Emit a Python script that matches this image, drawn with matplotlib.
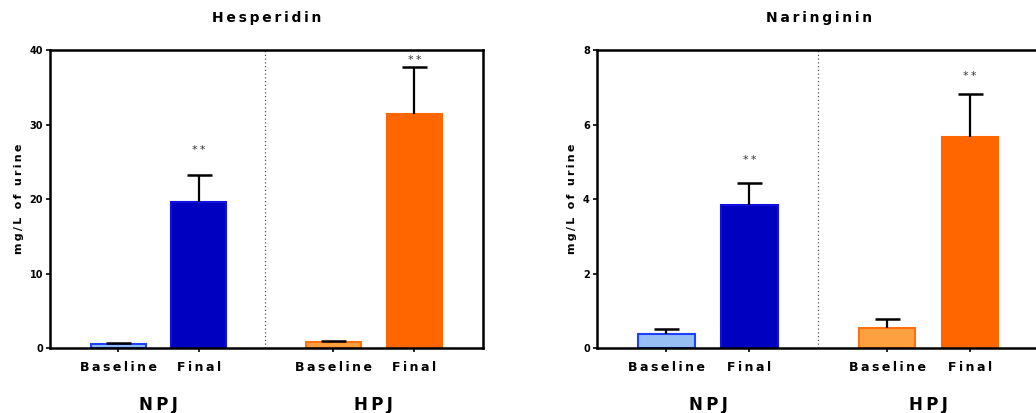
import matplotlib.pyplot as plt

# group / condition layout
groups = ["NPJ", "HPJ"]
conditions = ["Baseline", "Final"]

# Hesperidin (mg/L), mean and upper SEM, significance marks
hesp_mean = [0.55, 19.6, 0.8, 31.4]
hesp_err = [0.15, 3.6, 0.15, 6.4]
hesp_sig = ["", "**", "", "**"]
hesp_sig_y = [0, 26.6, 0, 38.7]

# Naringinin (mg/L)
nar_mean = [0.38, 3.84, 0.54, 5.67]
nar_err = [0.14, 0.59, 0.25, 1.16]
nar_sig = ["", "**", "", "**"]
nar_sig_y = [0, 5.05, 0, 7.31]

fills = ["#96c0f4", "#0000c0", "#ffa040", "#ff6600"]
edges = ["#2040ff", "#1010e0", "#ff7010", "#ff6600"]

pos = [0.84, 1.84, 3.5, 4.5]
divider = 2.66


def spaced(s):
    return "\u2009".join(s)


def panel(ax, title, mean, err, sig, sig_y, ymax, yticks):
    ax.bar(pos, mean, width=0.68, color=fills, edgecolor=edges, linewidth=1.5, zorder=2)
    _, caps, _ = ax.errorbar(pos, mean, yerr=[[0] * 4, err], fmt="none", ecolor="black",
                             elinewidth=1.6, capsize=9, capthick=1.8, zorder=3)
    caps[0].set_visible(False)  # one-sided bars: hide lower caps
    for x, s, y in zip(pos, sig, sig_y):
        if s:
            ax.text(x, y, spaced(s), ha="center", va="center",
                    fontsize=8, color="#333333")
    ax.axvline(divider, color="#555555", linestyle=(0, (1, 2)), linewidth=0.9)
    ax.set_xlim(0, 5.35)
    ax.set_ylim(0, ymax)
    ax.set_yticks(yticks)
    ax.set_yticklabels([str(t) for t in yticks], fontsize=7, fontweight="bold")
    ax.set_xticks(pos)
    ax.set_xticklabels([spaced(c) for c in conditions * 2], fontsize=9, fontweight="bold")
    ax.tick_params(axis="both", direction="out", length=3, width=1.2, pad=6)
    ax.tick_params(axis="y", pad=2)
    for sp in ax.spines.values():
        sp.set_linewidth(1.8)
    ax.set_ylabel(spaced("mg/L of urine"), fontsize=8, fontweight="bold", labelpad=4)
    ax.set_title(spaced(title), fontsize=10, fontweight="bold", pad=20)
    for i, g in enumerate(groups):
        ax.text((pos[2 * i] + pos[2 * i + 1]) / 2, -0.19, spaced(g),
                transform=ax.get_xaxis_transform(), ha="center", va="center",
                fontsize=12, fontweight="bold")


fig = plt.figure(figsize=(10.36, 4.13), dpi=100)
ax1 = fig.add_axes([0.0483, 0.157, 0.418, 0.7215])
ax2 = fig.add_axes([0.576, 0.157, 0.4286, 0.7215])

panel(ax1, "Hesperidin", hesp_mean, hesp_err, hesp_sig, hesp_sig_y, 40, [0, 10, 20, 30, 40])
panel(ax2, "Naringinin", nar_mean, nar_err, nar_sig, nar_sig_y, 8, [0, 2, 4, 6, 8])

fig.savefig("out.png", dpi=100)
